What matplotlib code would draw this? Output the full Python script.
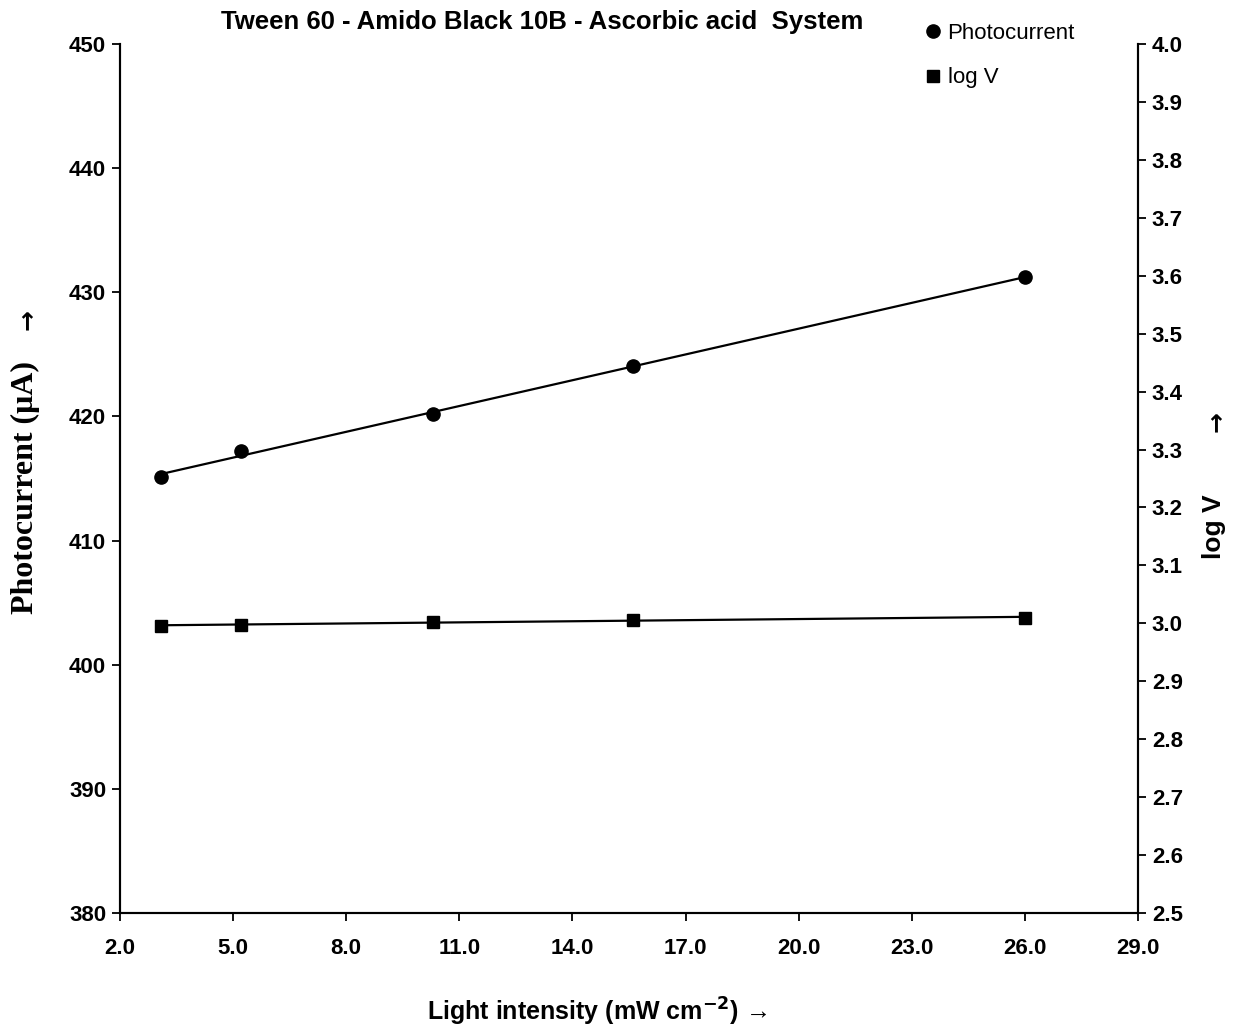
import numpy as np
import matplotlib.pyplot as plt
from matplotlib.lines import Line2D

# Datos
intensidad = [3.1, 5.2, 10.3, 15.6, 26.0]
fotocorriente = [415.1, 417.2, 420.2, 424.1, 431.2]
log_v = [2.995, 2.998, 3.003, 3.006, 3.010]

x_ticks = [2.0, 5.0, 8.0, 11.0, 14.0, 17.0, 20.0, 23.0, 26.0, 29.0]
y1_ticks = [380, 390, 400, 410, 420, 430, 440, 450]
y2_ticks = [2.5, 2.6, 2.7, 2.8, 2.9, 3.0, 3.1, 3.2, 3.3, 3.4, 3.5, 3.6, 3.7, 3.8, 3.9, 4.0]

plt.rcParams['font.family'] = ['Liberation Sans', 'DejaVu Sans']

W, H = 1236, 1026
fig = plt.figure(figsize=(12.36, 10.26), dpi=100)
ax = fig.add_axes([0.0971, 0.1101, 0.8236, 0.8470])
ax2 = ax.twinx()

x = np.array(intensidad)

# Photocurrent + recta de ajuste
p1 = np.polyfit(x, fotocorriente, 1)
xf = np.array([x.min(), x.max()])
ax.plot(xf, np.polyval(p1, xf), color='black', lw=1.6)
ax.plot(x, fotocorriente, 'o', color='black', ms=9.5)

# log V + recta de ajuste
p2 = np.polyfit(x, log_v, 1)
ax2.plot(xf, np.polyval(p2, xf), color='black', lw=1.6)
ax2.plot(x, log_v, 's', color='black', ms=9)

ax.set_xlim(2, 29)
ax.set_ylim(380, 450)
ax2.set_ylim(2.5, 4.0)
ax.set_xticks(x_ticks)
ax.set_xticklabels([f'{v:.1f}' for v in x_ticks])
ax.set_yticks(y1_ticks)
ax2.set_yticks(y2_ticks)
ax2.set_yticklabels([f'{v:.1f}' for v in y2_ticks])

for a in (ax, ax2):
    a.spines['top'].set_visible(False)
    for s in a.spines.values():
        s.set_linewidth(1.5)
    a.tick_params(direction='out', length=6, width=1.3, labelsize=16, pad=4)
    for lbl in a.get_xticklabels() + a.get_yticklabels():
        lbl.set_fontweight('bold')
ax.tick_params(axis='x', pad=12)

# Textos de ejes (colocados a mano, como en el original)
def ft(px, py, s, **kw):
    fig.text(px / W, 1 - py / H, s, ha='center', va='center', **kw)

ft(597, 1012, 'Light intensity (mW cm$^{\\mathbf{-2}}$) →', fontsize=18, fontweight='bold')
ft(25, 487, 'Photocurrent (μA)', rotation=90, fontsize=23, fontweight='bold',
   family=['Liberation Serif', 'DejaVu Serif'])
ft(27, 320, '→', rotation=90, fontsize=18, fontweight='bold', family=['DejaVu Sans'])
ft(1214, 527, 'log V', rotation=90, fontsize=19, fontweight='bold')
ft(1216, 422, '→', rotation=90, fontsize=18, fontweight='bold', family=['DejaVu Sans'])

ft(542, 22, 'Tween 60 - Amido Black 10B - Ascorbic acid  System', fontsize=18.5, fontweight='bold')

handles = [Line2D([], [], marker='o', color='black', ls='', ms=9.5),
           Line2D([], [], marker='s', color='black', ls='', ms=8.5)]
fig.legend(handles, ['Photocurrent', 'log V'], loc='upper left',
           bbox_to_anchor=(0.728, 0.997), frameon=False, fontsize=16,
           handletextpad=0.05, labelspacing=1.05, handlelength=1.2)

fig.savefig('out.png', dpi=100)
